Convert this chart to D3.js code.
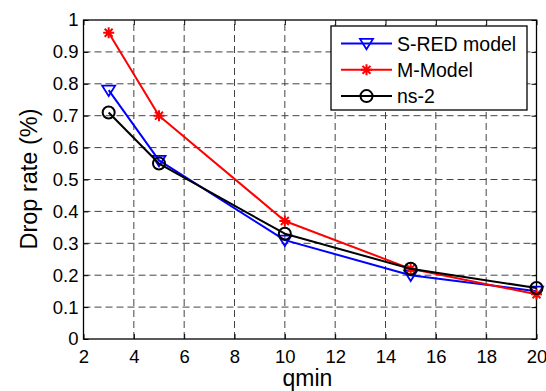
<!DOCTYPE html>
<html>
<head>
<meta charset="utf-8">
<script src="https://cdn.jsdelivr.net/npm/d3@7"></script>
<style>
  html, body { margin: 0; padding: 0; background: #fff; }
  svg { display: block; }
  text { font-family: "Liberation Sans", Arial, sans-serif; fill: #000; }
</style>
</head>
<body>
<svg id="chart" width="546" height="391"></svg>
<script>
// qmin values and drop rates (%) for each model
const qmin = [3, 5, 10, 15, 20];
const sredModel = [0.78, 0.56, 0.31, 0.20, 0.15];
const mModel = [0.96, 0.70, 0.37, 0.22, 0.14];
const ns2 = [0.71, 0.55, 0.33, 0.22, 0.16];
const xTicks = [2, 4, 6, 8, 10, 12, 14, 16, 18, 20];
const yTicks = [0, 0.1, 0.2, 0.3, 0.4, 0.5, 0.6, 0.7, 0.8, 0.9, 1];
const seriesNames = ["S-RED model", "M-Model", "ns-2"];

const svg = d3.select("#chart");
const plotLeft = 83.5, plotRight = 536.5, plotTop = 20, plotBottom = 339;

const x = d3.scaleLinear().domain([2, 20]).range([plotLeft, plotRight]);
const y = d3.scaleLinear().domain([0, 1]).range([plotBottom, plotTop]);

// dashed grid
const grid = svg.append("g").attr("stroke", "#444").attr("stroke-width", 1)
  .attr("stroke-dasharray", "7,4").attr("fill", "none");
xTicks.slice(1, -1).forEach(t => {
  grid.append("line").attr("x1", x(t)).attr("x2", x(t)).attr("y1", plotBottom).attr("y2", plotTop);
});
yTicks.slice(1, -1).forEach(t => {
  grid.append("line").attr("x1", plotLeft).attr("x2", plotRight).attr("y1", y(t)).attr("y2", y(t));
});

// axes with inward ticks on all sides
const tickLen = 5;
const tickFs = "18.5px";
const xAxis = d3.axisBottom(x).tickValues(xTicks).tickSizeInner(-tickLen).tickSizeOuter(0).tickPadding(10.5);
const yAxis = d3.axisLeft(y).tickValues(yTicks).tickFormat(d => d === 0 || d === 1 ? d3.format("d")(d) : d3.format(".1f")(d))
  .tickSizeInner(-tickLen).tickSizeOuter(0).tickPadding(5);

const gx = svg.append("g").attr("transform", `translate(0,${plotBottom})`).call(xAxis);
const gy = svg.append("g").attr("transform", `translate(${plotLeft},0)`).call(yAxis);
const gxTop = svg.append("g").attr("transform", `translate(0,${plotTop})`)
  .call(d3.axisTop(x).tickValues(xTicks).tickSizeInner(-tickLen).tickSizeOuter(0).tickFormat(""));
const gyRight = svg.append("g").attr("transform", `translate(${plotRight},0)`)
  .call(d3.axisRight(y).tickValues(yTicks).tickSizeInner(-tickLen).tickSizeOuter(0).tickFormat(""));

[gx, gy, gxTop, gyRight].forEach(g => {
  g.select(".domain").remove();
  g.selectAll(".tick line").attr("stroke", "#000").attr("stroke-width", 1);
  g.selectAll("text").attr("font-size", tickFs).attr("font-family", "Liberation Sans, Arial, sans-serif").attr("fill", "#000");
});

svg.append("rect").attr("x", plotLeft).attr("y", plotTop).attr("width", plotRight - plotLeft).attr("height", plotBottom - plotTop)
  .attr("fill", "none").attr("stroke", "#000").attr("stroke-width", 1.3);

// axis titles
svg.append("text").attr("x", 307.5).attr("y", 386).attr("text-anchor", "middle")
  .attr("font-size", "23px").text("qmin");
svg.append("text").attr("transform", `translate(37,179) rotate(-90)`)
  .attr("text-anchor", "middle").attr("font-size", "23.5px").text("Drop rate (%)");

// markers
function triangleDown(g, cx, cy, color) {
  const s = 6.5;
  g.append("path").attr("d", `M${cx - s},${cy - s * 0.7}L${cx + s},${cy - s * 0.7}L${cx},${cy + s * 0.9}Z`)
    .attr("fill", "none").attr("stroke", color).attr("stroke-width", 1.8);
}
function star(g, cx, cy, color) {
  const s = 5.5;
  const d = s * 0.72;
  g.append("path").attr("d",
    `M${cx - s},${cy}L${cx + s},${cy}M${cx},${cy - s}L${cx},${cy + s}` +
    `M${cx - d},${cy - d}L${cx + d},${cy + d}M${cx - d},${cy + d}L${cx + d},${cy - d}`)
    .attr("stroke", color).attr("stroke-width", 2);
}
function circle(g, cx, cy, color) {
  g.append("circle").attr("cx", cx).attr("cy", cy).attr("r", 6)
    .attr("fill", "none").attr("stroke", color).attr("stroke-width", 2);
}

const series = [
  { name: seriesNames[0], values: sredModel, color: "#0000ff", marker: triangleDown },
  { name: seriesNames[1], values: mModel, color: "#ff0000", marker: star },
  { name: seriesNames[2], values: ns2, color: "#000000", marker: circle }
];

const line = d3.line().x(d => x(d[0])).y(d => y(d[1]));
const plot = svg.append("g");
series.forEach(s => {
  const pts = qmin.map((q, i) => [q, s.values[i]]);
  plot.append("path").datum(pts).attr("d", line).attr("fill", "none")
    .attr("stroke", s.color).attr("stroke-width", 2).attr("stroke-linejoin", "round");
  pts.forEach(p => s.marker(plot, x(p[0]), y(p[1]), s.color));
});

// legend
const lg = svg.append("g");
lg.append("rect").attr("x", 331).attr("y", 26).attr("width", 196).attr("height", 84)
  .attr("fill", "#fff").attr("stroke", "#000").attr("stroke-width", 1.3);
series.forEach((s, i) => {
  const ly = 43.5 + i * 26.3;
  lg.append("line").attr("x1", 341).attr("x2", 392).attr("y1", ly).attr("y2", ly)
    .attr("stroke", s.color).attr("stroke-width", 2);
  s.marker(lg, 366.5, ly, s.color);
  lg.append("text").attr("x", 397).attr("y", ly + 7).attr("font-size", "19.5px").text(s.name);
});
</script>
</body>
</html>
